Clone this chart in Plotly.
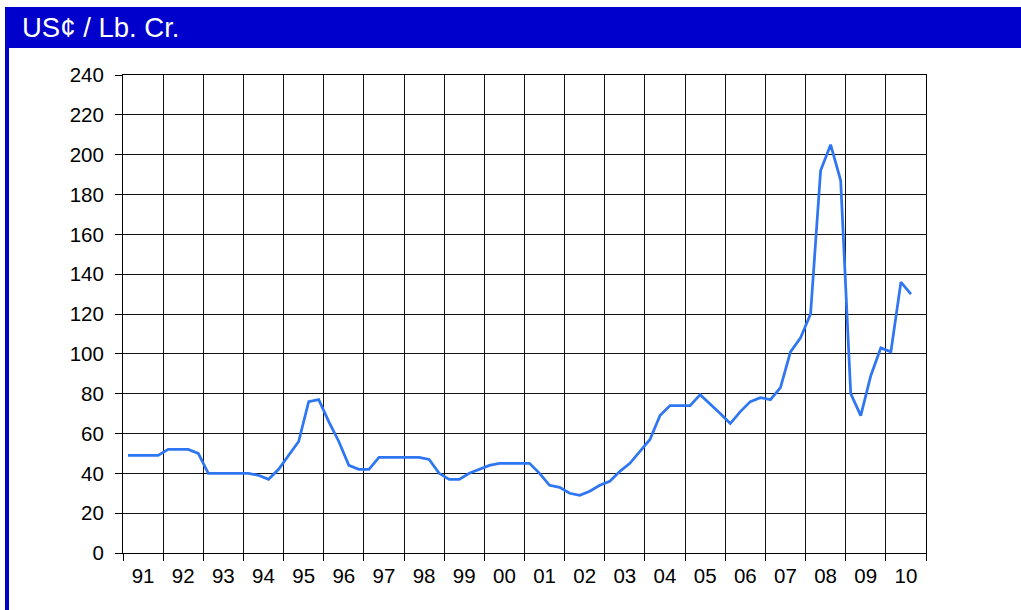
import plotly.graph_objects as go

year_labels = ["91", "92", "93", "94", "95", "96", "97", "98", "99", "00",
               "01", "02", "03", "04", "05", "06", "07", "08", "09", "10"]

# quarterly price, US cents per lb chromium (1991 Q1 .. 2010 Q3)
price = [49, 49, 49, 49,
         52, 52, 52, 50,
         40, 40, 40, 40,
         40, 39, 37, 42,
         49, 56, 76, 77,
         66, 56, 44, 42,
         42, 48, 48, 48,
         48, 48, 47, 40,
         37, 37, 40, 42,
         44, 45, 45, 45,
         45, 40, 34, 33,
         30, 29, 31, 34,
         36, 41, 45, 51,
         57, 69, 74, 74,
         74, 79.5, 75, 70,
         65, 71, 76, 78,
         77, 83, 101, 108,
         120, 192, 205, 187,
         80, 69, 89, 103,
         101, 136, 130]

y_ticks = list(range(0, 241, 20))

# position of each quarter inside its year slot
x_pos = [i // 4 + (i % 4 + 0.5) / 4 for i in range(len(price))]
label_pos = [i + 0.5 for i in range(len(year_labels))]

fig = go.Figure()
fig.add_trace(go.Scatter(
    x=x_pos, y=price, mode="lines",
    line=dict(color="#2F76F2", width=2.75),
    hoverinfo="skip", showlegend=False,
))

W, H = 1021, 610
L, R, T, B = 123, 95, 75, 57
pw, ph = W - L - R, H - T - B


def px_x(px):
    return (px - L) / pw


def px_y(py):
    return (H - B - py) / ph


font = "Liberation Sans, Arial, sans-serif"

fig.update_layout(
    width=W, height=H, autosize=False,
    margin=dict(l=L, r=R, t=T, b=B, pad=0),
    paper_bgcolor="white", plot_bgcolor="white",
    font=dict(family=font, color="black", size=20.5),
    xaxis=dict(
        range=[0, len(year_labels)],
        tickmode="array", tickvals=label_pos, ticktext=year_labels,
        ticks="outside", ticklen=4, tickcolor="rgba(0,0,0,0)",
        showgrid=False, zeroline=False,
        showline=True, linecolor="black", linewidth=1, mirror=True,
        tickfont=dict(size=20.5, family=font, color="black"),
        minor=dict(tick0=0, dtick=1, showgrid=True, gridcolor="#111111",
                   gridwidth=1, ticks="outside", ticklen=7,
                   tickcolor="black", tickwidth=1),
        fixedrange=True,
    ),
    yaxis=dict(
        range=[0, 240], tickmode="array", tickvals=y_ticks,
        ticks="outside", ticklen=7, tickcolor="black", tickwidth=1,
        showgrid=True, gridcolor="#111111", gridwidth=1, zeroline=False,
        showline=True, linecolor="black", linewidth=1, mirror=True,
        tickfont=dict(size=20.5, family=font, color="black"),
        ticklabelstandoff=7,
        fixedrange=True,
    ),
    shapes=[
        dict(type="rect", xref="paper", yref="paper",
             x0=px_x(5), x1=px_x(W + 2), y0=px_y(48), y1=px_y(7),
             fillcolor="#0000CC", line=dict(width=0), layer="above"),
        dict(type="rect", xref="paper", yref="paper",
             x0=px_x(5), x1=px_x(9), y0=px_y(H + 2), y1=px_y(48),
             fillcolor="#0000CC", line=dict(width=0), layer="above"),
    ],
    annotations=[
        dict(text="US¢ / Lb. Cr.", xref="paper", yref="paper",
             x=px_x(20), y=px_y(28), xanchor="left", yanchor="middle",
             showarrow=False,
             font=dict(family=font, size=27.5, color="white")),
    ],
)

fig.write_html(
    "out.html",
    config={"displayModeBar": False, "staticPlot": True},
    post_script="document.body.style.margin='0';document.body.style.overflow='hidden';",
)
